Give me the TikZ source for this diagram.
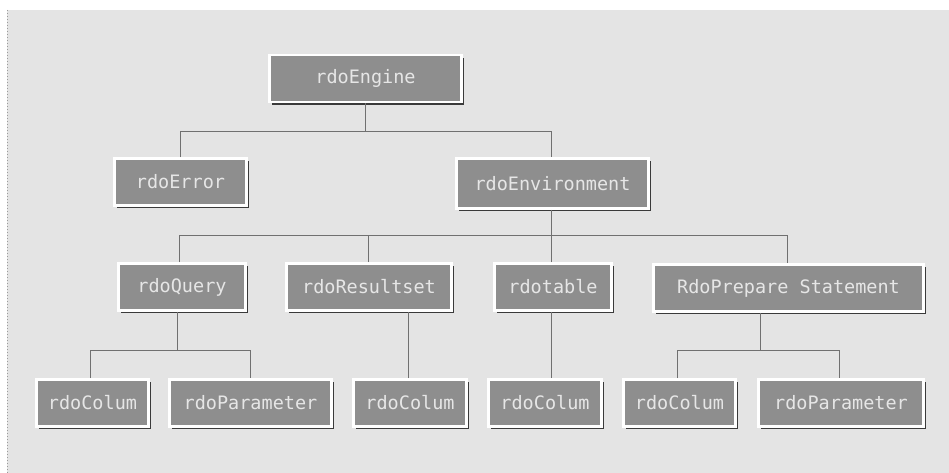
\documentclass[tikz,border=0pt]{standalone}
\usepackage{fontspec}
\newfontfamily\boxfont{DejaVu Sans Mono}
\usetikzlibrary{shadows,calc}
\definecolor{paper}{HTML}{E4E4E4}
\definecolor{boxgray}{HTML}{8E8E8E}
\definecolor{shadowgray}{HTML}{3A3A3A}
\definecolor{labelgray}{HTML}{E6E6E6}
\definecolor{linegray}{HTML}{707070}
\tikzset{
  classbox/.style={draw=white, line width=2.8pt, fill=boxgray, inner sep=0pt,
    minimum height=47pt, text=labelgray, font=\boxfont\fontsize{18.5}{20}\selectfont,
    drop shadow={shadow xshift=2.8pt, shadow yshift=-2.8pt, fill=shadowgray, opacity=1}},
  conn/.style={draw=linegray, line width=1pt}
}
\begin{document}
\begin{tikzpicture}[x=1pt, y=-1pt]
  \useasboundingbox (0,0) rectangle (949,473);
  \fill[white] (0,0) rectangle (949,473);
  \fill[paper] (7,10) rectangle (949,473);
  \draw[linegray!70, dotted, line width=1pt] (7,10) -- (7,473);

  % bus levels
  \coordinate (bus1) at (0,132);
  \coordinate (bus2) at (0,235);
  \coordinate (bus3) at (0,350);

  % level 0
  \node[classbox, minimum width=192pt] (engine) at (365.5,78.5) {rdoEngine};
  % level 1
  \node[classbox, minimum width=132pt] (error) at (180.5,182) {rdoError};
  \node[classbox, minimum width=192pt, minimum height=50pt] (env) at (552.5,183.5) {rdoEnvironment};
  % level 2
  \node[classbox, minimum width=127pt] (query) at (182,287) {rdoQuery};
  \node[classbox, minimum width=165pt] (result) at (369,287) {rdoResultset};
  \node[classbox, minimum width=117pt] (table) at (553,287) {rdotable};
  \node[classbox, minimum width=270pt] (prep) at (788.5,288) {RdoPrepare Statement};
  % level 3
  \node[classbox, minimum width=112pt] (col1) at (92.5,403) {rdoColum};
  \node[classbox, minimum width=162pt] (param1) at (250.5,403) {rdoParameter};
  \node[classbox, minimum width=113pt] (col2) at (410,403) {rdoColum};
  \node[classbox, minimum width=113pt] (col3) at (545,403) {rdoColum};
  \node[classbox, minimum width=112pt] (col4) at (679.5,403) {rdoColum};
  \node[classbox, minimum width=165pt] (param2) at (841,403) {rdoParameter};

  % engine -> error, environment
  \draw[conn] (engine.south) -- (engine.south |- bus1);
  \draw[conn] (error.north) -- (error.north |- bus1) -- ([xshift=-1.5pt]env.north |- bus1) -- ([xshift=-1.5pt]env.north);
  % environment -> query, resultset, table, prepare
  \draw[conn] ([xshift=-1.5pt]env.south) -- ([xshift=-1.5pt]env.south |- bus2);
  \draw[conn] ([xshift=-3pt]query.north) -- ([xshift=-3pt]query.north |- bus2) -- ([xshift=-1.5pt]prep.north |- bus2) -- ([xshift=-1.5pt]prep.north);
  \draw[conn] ([xshift=-1pt]result.north) -- ([xshift=-1pt]result.north |- bus2);
  \draw[conn] ([xshift=-2pt]table.north) -- ([xshift=-2pt]table.north |- bus2);
  % query -> colum, parameter
  \draw[conn] ([xshift=-5pt]query.south) -- ([xshift=-5pt]query.south |- bus3);
  \draw[conn] ([xshift=-2.5pt]col1.north) -- ([xshift=-2.5pt]col1.north |- bus3) -- (param1.north |- bus3) -- (param1.north);
  % resultset -> colum
  \draw[conn] ([xshift=-2pt]col2.north) -- ([xshift=-2pt]col2.north |- result.south);
  % table -> colum
  \draw[conn] ([xshift=-2pt]table.south) -- ([xshift=-2pt]table.south |- col3.north);
  % prepare statement -> colum, parameter
  \coordinate (pmid) at ($(col4.north)!0.5!(param2.north)$);
  \draw[conn] (pmid |- prep.south) -- (pmid |- bus3);
  \draw[conn] ([xshift=-2pt]col4.north) -- ([xshift=-2pt]col4.north |- bus3) -- ([xshift=-2pt]param2.north |- bus3) -- ([xshift=-2pt]param2.north);
\end{tikzpicture}
\end{document}
